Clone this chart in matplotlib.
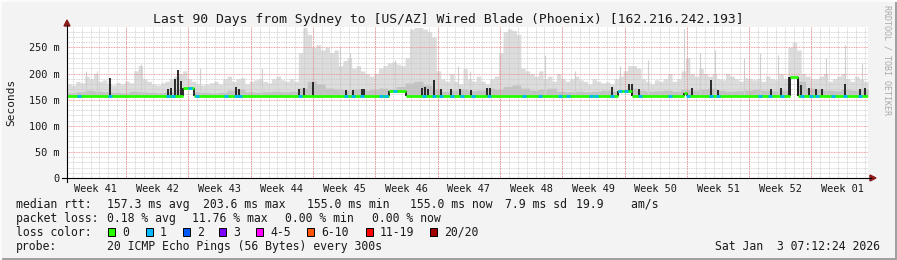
import numpy as np
import matplotlib
matplotlib.use("Agg")
import matplotlib.pyplot as plt
from matplotlib.lines import Line2D
from matplotlib.patches import Polygon, Rectangle

# ---------------- data (time in days since window start, values in ms) ----------------
title = "Last 90 Days from Sydney to [US/AZ] Wired Blade (Phoenix) [162.216.242.193]"
week_labels = ["Week 41", "Week 42", "Week 43", "Week 44", "Week 45", "Week 46", "Week 47",
               "Week 48", "Week 49", "Week 50", "Week 51", "Week 52", "Week 01"]
week_label_pos = [3.15, 10.15, 17.15, 24.15, 31.15, 38.15, 45.15, 52.15, 59.15, 66.15, 73.15, 80.15, 87.15]
week_starts = [6.65, 13.65, 20.65, 27.65, 34.65, 41.65, 48.65, 55.65, 62.65, 69.65, 76.65, 83.65]
ytick_vals = [0, 50, 100, 150, 200, 250]
ytick_labels = ["0", "50 m", "100 m", "150 m", "200 m", "250 m"]

# light smoke upper envelope, one value per half day (180 values)
smoke_top = [
    180, 178, 185, 182, 195, 190, 200, 185, 188, 180, 178, 183, 180, 185,
    182, 205, 215, 190, 185, 180, 178, 182, 185, 190, 195, 200, 205, 190,
    185, 180, 178, 180, 182, 185, 180, 190, 195, 185, 190, 192, 180, 185,
    188, 190, 185, 182, 190, 195, 188, 185, 190, 185, 240, 288, 275, 250,
    255, 245, 250, 240, 245, 215, 225, 230, 210, 215, 205, 200, 195, 200,
    210, 215, 220, 222, 218, 215, 230, 285, 288, 288, 285, 280, 270, 205,
    190, 185, 200, 185, 180, 210, 190, 185, 195, 185, 180, 190, 195, 240,
    280, 285, 282, 275, 210, 205, 200, 195, 205, 190, 195, 185, 200, 190,
    185, 190, 195, 188, 185, 180, 190, 185, 182, 184, 180, 190, 195, 205,
    215, 215, 210, 190, 185, 180, 188, 185, 190, 200, 185, 190, 205, 230,
    200, 195, 210, 200, 195, 200, 190, 188, 200, 195, 190, 185, 192, 190,
    188, 190, 185, 195, 190, 188, 200, 190, 250, 260, 245, 200, 195, 190,
    190, 195, 200, 185, 190, 195, 200, 190, 185, 195, 190, 185,
]

# darker smoke band upper edge, one value per day (90 values)
smoke_dark = [
    163, 165, 168, 166, 165, 164, 163,
    166, 165, 164, 163, 165, 170, 172,
    165, 164, 163, 164, 168, 170, 165,
    164, 165, 166, 165, 166, 172, 185,
    180, 172, 170, 168, 170, 168, 170,
    172, 170, 175, 182, 185, 178, 170,
    166, 168, 170, 167, 168, 172, 170,
    175, 178, 172, 168, 170, 172, 166,
    165, 166, 165, 166, 168, 166, 168,
    172, 168, 166, 167, 168, 166, 170,
    168, 170, 172, 168, 166, 167, 168,
    170, 168, 167, 168, 175, 185, 172,
    170, 168, 167, 170, 168, 170,
]

# thin light-gray smoke spikes
gray_spike_t = [2.13, 3.37, 8.31, 14.94, 21.91, 30.67, 31.80, 36.85, 43.93, 45.28, 53.71, 57.08,
                62.13, 65.28, 69.33, 71.12, 72.81, 76.07, 77.87, 79.89, 85.28, 87.42, 89.33]
gray_spike_v = [205, 205, 218, 210, 210, 250, 240, 225, 215, 205, 235, 205,
                215, 225, 285, 240, 245, 230, 240, 235, 230, 255, 220]

# dark (black) smoke spikes
dark_spike_t = [4.83, 11.35, 11.69, 12.13, 12.47, 12.81, 18.99, 19.33, 26.07, 26.63, 27.64,
                31.35, 32.13, 33.15, 33.37, 39.89, 40.22, 40.56, 41.24, 42.02, 43.15, 44.16,
                45.39, 47.19, 47.53, 61.24, 63.15, 63.48, 64.27, 70.22, 72.36, 73.15, 79.10,
                80.22, 81.12, 82.13, 82.47, 83.37, 84.16, 84.83, 87.42, 89.10, 89.66]
dark_spike_v = [192, 170, 172, 190, 207, 185, 175, 170, 170, 172, 184,
                168, 168, 170, 170, 172, 175, 170, 188, 170, 170, 170,
                168, 172, 172, 175, 180, 180, 170, 172, 188, 168, 170,
                172, 193, 193, 178, 172, 170, 170, 180, 170, 172]

# median rtt as step breakpoints
median_t = [0, 13.03, 14.27, 36.18, 38.09, 61.91, 63.48, 69.33, 69.66, 81.24, 82.13, 90]
median_v = [156, 172, 156, 166, 156, 167, 156, 163, 156, 193, 156, 156]

# samples with 1/20 packet loss
loss1_t = [1.35, 4.83, 11.35, 11.91, 13.82, 14.61, 17.87, 18.99, 19.44, 26.18, 31.35, 32.13,
           33.15, 35.28, 35.84, 36.85, 40.11, 41.24, 42.02, 43.26, 44.38, 45.62, 47.42, 51.35,
           53.15, 55.39, 56.29, 58.88, 59.44, 61.24, 62.13, 62.81, 64.38, 67.75, 69.78, 72.36,
           73.15, 77.87, 78.99, 80.34, 82.58, 83.60, 84.27, 86.07, 87.42, 89.10]

loss_labels = ["0", "1", "2", "3", "4-5", "6-10", "11-19", "20/20"]
loss_colors = ["#26ff00", "#00b8ff", "#0059ff", "#7e00ff", "#ff00ff", "#ff5500", "#ff0000", "#a10000"]

stats_rtt = ["157.3 ms avg", "203.6 ms max", "155.0 ms min", "155.0 ms now", "7.9 ms sd", "19.9    am/s"]
stats_loss = ["0.18 % avg", "11.76 % max", "0.00 % min", "0.00 % now"]
probe_text = "20 ICMP Echo Pings (56 Bytes) every 300s"
stamp = "Sat Jan  3 07:12:24 2026"

# ---------------- figure ----------------
W, H = 897, 260
DPI = 100
BG = "#f3f3f3"
MONO = "DejaVu Sans Mono"
fig = plt.figure(figsize=(W / DPI, H / DPI), dpi=DPI, facecolor=BG)

def fx(x):
    return x / W

def fy(y):
    return 1 - y / H

X0, X1, Y0, Y1 = 67, 868, 178, 27
ax = fig.add_axes([fx(X0), fy(Y0), (X1 - X0) / W, (Y0 - Y1) / H])
ax.set_facecolor("white")
ymax = 289.0
ax.set_xlim(0, 90)
ax.set_ylim(0, ymax)
for s in ax.spines.values():
    s.set_visible(False)

# smoke rendering on a fine grid from the step data
tt = np.arange(0, 90.0001, 0.02)
top_arr = np.array(smoke_top, dtype=float)
dark_arr = np.array(smoke_dark, dtype=float)
mt = np.array(median_t)
mv = np.array(median_v, dtype=float)
med_fine = mv[np.clip(np.searchsorted(mt, tt, side="right") - 1, 0, len(mv) - 1)]
top_fine = top_arr[np.clip((tt / 0.5).astype(int), 0, len(top_arr) - 1)]
dark_fine = dark_arr[np.clip(tt.astype(int), 0, len(dark_arr) - 1)]
ax.fill_between(tt, med_fine, np.maximum(top_fine, med_fine), color="#dcdcdc", lw=0, zorder=1)
ax.fill_between(tt, med_fine, np.maximum(dark_fine, med_fine), color="#c2c2c2", lw=0, zorder=1.1)

def med_at(t):
    return mv[max(0, np.searchsorted(mt, t, side="right") - 1)]

ax.vlines(gray_spike_t, [med_at(t) for t in gray_spike_t], gray_spike_v,
          color="#cfcfcf", lw=0.8, zorder=1.2)

# grid
minor_days = np.arange(0.65, 90, 1.0)
for d in minor_days:
    ax.axvline(d, color="#c8c8c8", lw=0.6, ls=(0, (1, 1)), zorder=1.5)
for v in range(10, 290, 10):
    if v % 50:
        ax.axhline(v, color="#c8c8c8", lw=0.6, ls=(0, (1, 1)), zorder=1.5)
for d in week_starts:
    ax.axvline(d, color="#f08080", lw=0.6, ls=(0, (1, 1)), zorder=1.6)
for v in ytick_vals[1:]:
    ax.axhline(v, color="#f08080", lw=0.6, ls=(0, (1, 1)), zorder=1.6)

ax.vlines(dark_spike_t, [med_at(t) for t in dark_spike_t], dark_spike_v,
          color="#1c1c1c", lw=1.3, zorder=2.5)

# median line: horizontal segments coloured by loss, dark vertical transitions
ax.hlines(median_v[:-1], median_t[:-1], median_t[1:], color=loss_colors[0], lw=2.0, zorder=3)
ax.vlines(median_t[1:-1], median_v[:-2], median_v[1:-1], color="#1c1c1c", lw=1.3, zorder=2.9)
for t in loss1_t:
    m = med_at(t)
    ax.plot([t - 0.22, t + 0.22], [m, m], color=loss_colors[1], lw=2.0, zorder=3.1,
            solid_capstyle="butt")

# ticks
ax.set_xticks(week_label_pos)
ax.set_xticklabels(week_labels, fontfamily=MONO, fontsize=7.4)
ax.set_yticks(ytick_vals)
ax.set_yticklabels(ytick_labels, fontfamily=MONO, fontsize=7.4)
ax.tick_params(axis="x", length=0, pad=4.0, colors="#1a1a1a")
ax.tick_params(axis="y", length=0, pad=5.5, colors="#1a1a1a")

# axes lines + arrows
fig.add_artist(Line2D([fx(62), fx(871)], [fy(178), fy(178)], color="black", lw=0.8,
                      transform=fig.transFigure))
fig.add_artist(Line2D([fx(67), fx(67)], [fy(182), fy(25)], color="black", lw=0.8,
                      transform=fig.transFigure))
fig.add_artist(Polygon([(fx(870), fy(175)), (fx(876), fy(178)), (fx(870), fy(181))],
                       closed=True, color="#8b1a1a", transform=fig.transFigure))
fig.add_artist(Polygon([(fx(64), fy(26)), (fx(67), fy(20)), (fx(70), fy(26))],
                       closed=True, color="#8b1a1a", transform=fig.transFigure))

# title & labels
fig.text(fx(448), fy(19), title, fontfamily=MONO, fontsize=9.45, ha="center", va="center",
         color="#1a1a1a")
fig.text(fx(11), fy(102), "Seconds", fontfamily=MONO, fontsize=8.0, rotation=90,
         ha="center", va="center", color="#1a1a1a")
fig.text(fx(887), fy(5), "RRDTOOL / TOBI OETIKER", fontfamily=MONO, fontsize=6.0,
         rotation=270, ha="center", va="top", color="#aaaaaa")

# legend
LF = 8.3
def lt(x, y, s, **kw):
    fig.text(fx(x), fy(y), s, fontfamily=MONO, fontsize=LF, va="center", color="#1a1a1a", **kw)

rows = [204.3, 218.3, 232.3, 246.3]
lt(16, rows[0], "median rtt:")
for x, s in zip([107, 203, 307, 410, 505, 576], stats_rtt):
    lt(x, rows[0], s)
lt(16, rows[1], "packet loss:")
for x, s in zip([107, 192, 285, 372], stats_loss):
    lt(x, rows[1], s)
lt(16, rows[2], "loss color:")
box_x = [108, 146, 183, 219, 256, 307, 366, 430]
for bx, c, s in zip(box_x, loss_colors, loss_labels):
    fig.add_artist(Rectangle((fx(bx), fy(rows[2] + 4)), 7 / W, 8 / H, facecolor=c,
                             edgecolor="black", lw=0.7, transform=fig.transFigure))
    lt(bx + 14, rows[2], s)
lt(16, rows[3], "probe:")
lt(107, rows[3], probe_text)
lt(880, rows[3], stamp, ha="right")

# 3D frame
fig.add_artist(Rectangle((0, 0), 1, 2 / H, facecolor="#a0a0a0", lw=0, transform=fig.transFigure))
fig.add_artist(Rectangle((1 - 2 / W, 0), 2 / W, 1, facecolor="#a0a0a0", lw=0, transform=fig.transFigure))
fig.add_artist(Rectangle((0, 1 - 2 / H), 1, 2 / H, facecolor="#fbfbfb", lw=0, transform=fig.transFigure))
fig.add_artist(Rectangle((0, 0), 2 / W, 1, facecolor="#fbfbfb", lw=0, transform=fig.transFigure))

fig.savefig("out.png", dpi=DPI, facecolor=BG)
